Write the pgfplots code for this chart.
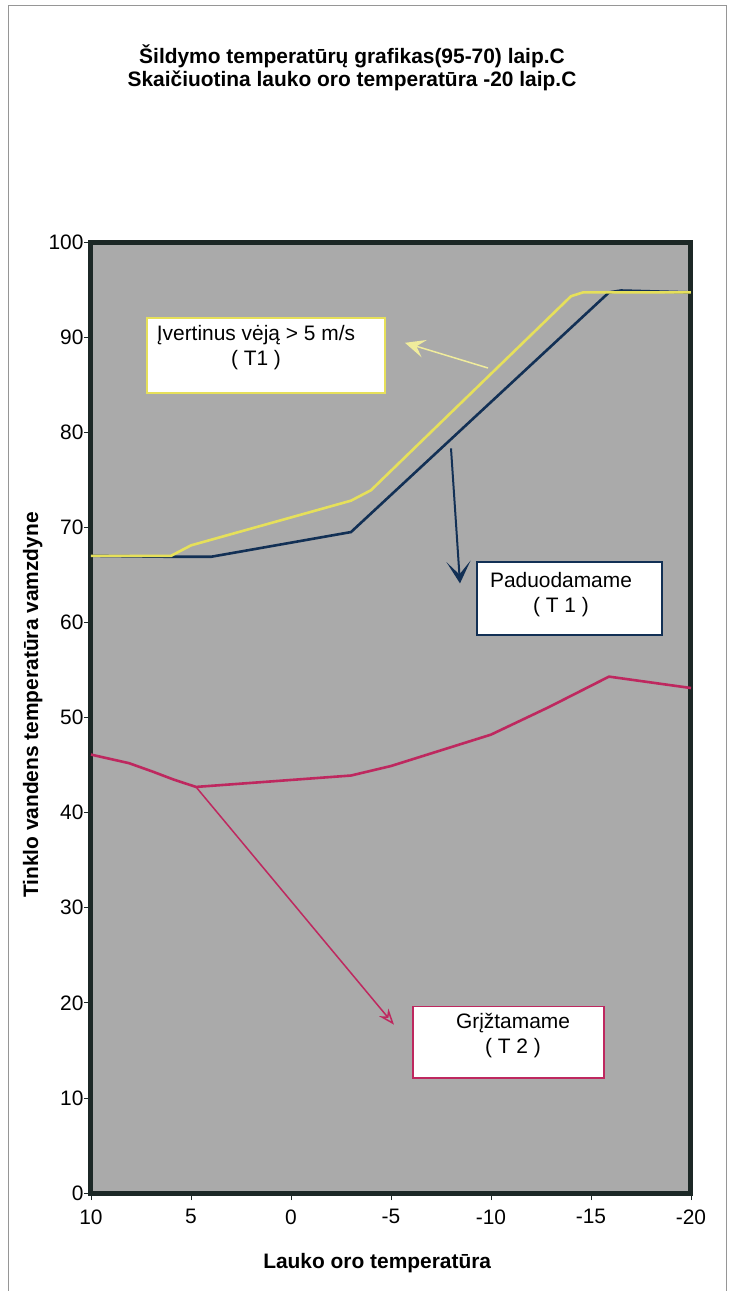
\documentclass[border=0pt]{standalone}
\usepackage{fontspec}
\setmainfont{Liberation Sans}
\usepackage{pgfplots}
\pgfplotsset{compat=1.18}
\usetikzlibrary{arrows.meta}

\definecolor{plotgray}{RGB}{170,170,170}
\definecolor{axisdark}{RGB}{28,40,38}
\definecolor{yel}{RGB}{230,224,90}
\definecolor{navy}{RGB}{18,48,85}
\definecolor{mag}{RGB}{190,40,95}
\definecolor{framegray}{RGB}{150,150,150}

\begin{document}
\begin{tikzpicture}
\useasboundingbox (0,0) rectangle (730bp,-1291bp);
\fill[white] (0,0) rectangle (730bp,-1291bp);
% page frame of the scan
\draw[framegray, line width=1bp] (8bp,-1291bp) -- (8bp,-5bp) -- (726bp,-5bp) -- (726bp,-1291bp);

% title
\node[font=\fontsize{21}{23}\selectfont\bfseries, align=center] at (352bp,-68bp)
  {Šildymo temperatūrų grafikas(95-70) laip.C\\Skaičiuotina lauko oro temperatūra -20 laip.C};

\begin{axis}[
  at={(91bp,-1193bp)}, anchor=south west,
  width=600bp, height=951bp, scale only axis,
  x dir=reverse,
  xmin=-20, xmax=10, ymin=0, ymax=100,
  xtick={-20,-15,...,10}, ytick={0,10,...,100},
  xtick pos=left, ytick pos=left,
  tick align=outside, major tick length=7bp,
  tick style={axisdark, line width=0.8bp},
  axis line style={axisdark, line width=5bp},
  axis background/.style={fill=plotgray},
  font=\fontsize{21}{25}\selectfont,
  /pgf/number format/assume math mode=true,
  yticklabel style={xshift=3bp},
  xticklabel style={yshift=-6bp},
  xlabel={\bfseries Lauko oro temperatūra},
  ylabel={\bfseries Tinklo vandens temperatūra vamzdyne},
  xlabel style={at={(axis description cs:0.477,-0.074)}, anchor=center},
  ylabel style={at={(axis description cs:-0.097,0.513)}, anchor=center, rotate=0},
  clip=false,
]

% Paduodamame (T1)
\addplot[navy, line width=2.6bp] coordinates {
  (10,67) (6,66.9) (4,66.9) (-3,69.5) (-15.9,94.7) (-16.5,94.9) (-20,94.7)
};

% Įvertinus vėją > 5 m/s (T1)
\addplot[yel, line width=2.6bp] coordinates {
  (10,67) (6,67) (5,68.1) (-3,72.8) (-4,73.9) (-14,94.3) (-14.6,94.7) (-20,94.7)
};

% Grįžtamame (T2)
\addplot[mag, line width=2.6bp] coordinates {
  (10,46.1) (8.1,45.2) (6.9,44.3) (5.9,43.5) (4.75,42.7) (1.5,43.2)
  (-3,43.9) (-5,44.9) (-10,48.2) (-12.9,51.1) (-15.9,54.3) (-20,53.1)
};

% annotation boxes and arrows
\draw[yel, line width=1.5bp, fill=white] (axis cs:7.2,84.1) rectangle (axis cs:-4.7,92.0);
\node[align=center] at (axis cs:1.75,88.9) {Įvertinus vėją > 5 m/s\\( T1 )};
\draw[yel!60!white, line width=1.5bp, -{Stealth[length=20bp,width=18bp,inset=8bp]}]
  (axis cs:-9.85,86.75) -- (axis cs:-5.7,89.4);

\draw[navy, line width=1.5bp, fill=white] (axis cs:-9.3,58.7) rectangle (axis cs:-18.55,66.35);
\node[align=center] at (axis cs:-13.5,62.9) {Paduodamame\\( T 1 )};
\draw[navy, line width=2bp, -{Stealth[length=22bp,width=24bp,inset=13bp]}]
  (axis cs:-8,78.3) -- (axis cs:-8.45,64.1);

\draw[mag, line width=1.5bp, fill=white] (axis cs:-6.1,12.1) rectangle (axis cs:-15.65,19.6);
\node[align=center] at (axis cs:-11.1,16.6) {Grįžtamame\\( T 2 )};
\draw[mag, line width=1.5bp, -{Stealth[length=16bp,width=12bp,open]}]
  (axis cs:4.75,42.7) -- (axis cs:-5.15,17.7);
\end{axis}
\end{tikzpicture}
\end{document}
